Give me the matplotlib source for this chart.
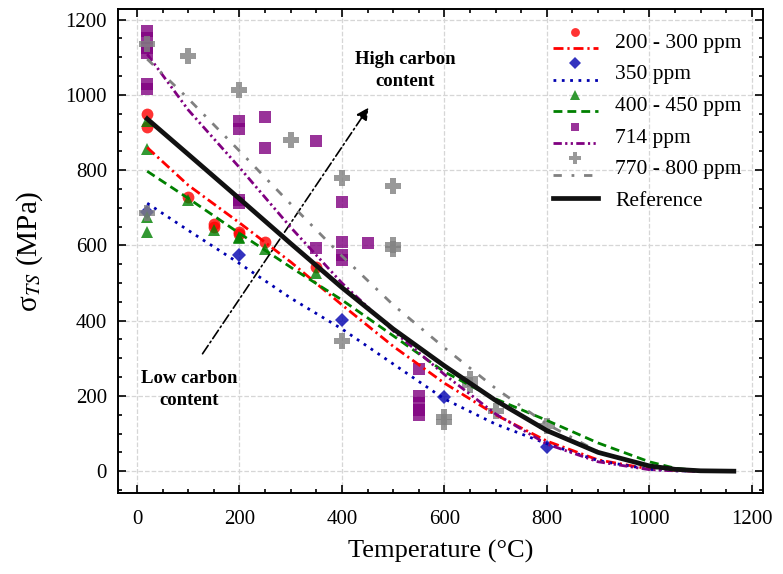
import matplotlib
matplotlib.use("Agg")
import matplotlib.pyplot as plt
import numpy as np
from matplotlib.lines import Line2D
from matplotlib.legend_handler import HandlerBase

plt.rcParams['font.family'] = ['Liberation Serif', 'DejaVu Serif']
plt.rcParams['mathtext.fontset'] = 'stix'

# fitted curves
T_fit = [20, 100, 200, 300, 400, 500, 600, 700, 800, 900, 1000, 1050, 1100, 1165]
fit_200_300 = [860, 760, 660, 556, 442, 332, 234, 150, 80, 30, 6, 2, 0, 0]
fit_350 = [712, 640, 552, 460, 378, 285, 192, 125, 73, 28, 5, 1, 0, 0]
fit_400_450 = [797, 725, 632, 542, 455, 360, 264, 192, 135, 75, 25, 8, 1, 0]
fit_714 = [1108, 960, 807, 648, 500, 373, 257, 152, 72, 25, 4, 1, 0, 0]
fit_770_800 = [1095, 990, 851, 710, 572, 442, 328, 220, 125, 52, 10, 3, 0, 0]
fit_ref = [936, 842, 724, 605, 488, 378, 280, 188, 108, 50, 14, 5, 1, 0]

# measured points
T_200_300 = [20, 20, 100, 150, 150, 200, 200, 250, 350]
S_200_300 = [948, 915, 729, 658, 650, 636, 630, 610, 543]

T_350 = [20, 200, 400, 600, 800]
S_350 = [689, 574, 402, 198, 63]

T_400_450 = [20, 20, 20, 20, 100, 150, 200, 200, 250, 350]
S_400_450 = [930, 855, 676, 636, 720, 641, 623, 619, 590, 526]

T_714 = [20, 20, 20, 20, 20, 20, 200, 200, 200, 200, 250, 250, 350, 350,
         400, 400, 400, 400, 450, 550, 550, 550, 550, 550]
S_714 = [1170, 1150, 1125, 1110, 1030, 1015, 930, 910, 720, 712, 940, 860, 877, 592,
         714, 610, 575, 560, 605, 271, 200, 180, 162, 148]

T_770_800 = [20, 20, 100, 200, 300, 400, 400, 500, 500, 500, 600, 600, 650, 650, 700, 800]
S_770_800 = [1134, 685, 1102, 1012, 881, 780, 346, 757, 600, 590, 145, 130, 245, 228, 159, 120]

series = [
    ("200 - 300 ppm", T_200_300, S_200_300, fit_200_300, "red", "o", (0, (3.6, 1.4, 0.8, 1.4))),
    ("350 ppm", T_350, S_350, fit_350, "#0000b0", "D", (0, (1, 2))),
    ("400 - 450 ppm", T_400_450, S_400_450, fit_400_450, "green", "^", (0, (3.2, 1.8))),
    ("714 ppm", T_714, S_714, fit_714, "purple", "s", (0, (3, 1.2, 0.8, 1.2, 0.8, 1.2))),
    ("770 - 800 ppm", T_770_800, S_770_800, fit_770_800, "gray", "P", (0, (3, 3.5, 1, 3.5))),
]
msizes = {"o": 8.5, "D": 7.5, "^": 9, "s": 8, "P": 11.5}


class MarkerOverLine(HandlerBase):
    def create_artists(self, legend, orig_handle, xdescent, ydescent,
                       width, height, fontsize, trans):
        ln, mk = orig_handle
        x0 = -xdescent
        y0 = -ydescent
        line = Line2D([x0, x0 + width], [y0 + 0.1 * height] * 2)
        line.update_from(ln)
        line.set_marker("None")
        line.set_transform(trans)
        dot = Line2D([x0 + width / 2], [y0 + 0.95 * height])
        dot.update_from(mk)
        dot.set_linestyle("None")
        dot.set_markersize(mk.get_markersize() * 0.75)
        dot.set_transform(trans)
        return [line, dot]


fig, ax = plt.subplots(figsize=(7.83, 5.74), dpi=100)
fig.subplots_adjust(left=0.1507, right=0.9745, top=0.9843, bottom=0.1411)

handles = []
labels = []
for name, tx, sy, fy, col, mk, ls in series:
    m, = ax.plot(tx, sy, linestyle="None", marker=mk, color=col, alpha=0.8,
                 markersize=msizes[mk], markeredgewidth=0, zorder=3)
    handles.append([None, m])
    labels.append(name)

for i, (name, tx, sy, fy, col, mk, ls) in enumerate(series):
    l, = ax.plot(T_fit, fy, color=col, linestyle=ls, linewidth=2, zorder=4)
    handles[i][0] = l

ref, = ax.plot(T_fit, fit_ref, color="#111111", linewidth=3.4, zorder=5)

# arrow between the two notes
ax.annotate("", xy=(452, 966), xytext=(128, 312),
            arrowprops=dict(arrowstyle="-|>", color="black", lw=1.2,
                            linestyle=(0, (6, 2, 1, 2)), mutation_scale=18,
                            shrinkA=0, shrinkB=0))
ax.text(523, 1064, "High carbon\ncontent", ha="center", va="center",
        fontsize=13.5, fontweight="bold", linespacing=1.4)
ax.text(102, 216, "Low carbon\ncontent", ha="center", va="center",
        fontsize=13.5, fontweight="bold", linespacing=1.4)

hmap = {tuple(h): MarkerOverLine() for h in handles}
leg_handles = [tuple(h) for h in handles] + [ref]
ax.legend(leg_handles, labels + ["Reference"], handler_map=hmap,
          loc="upper right", frameon=False, fontsize=15.5,
          handlelength=2.1, handleheight=1.0, handletextpad=0.8,
          labelspacing=0.45, borderaxespad=0.6)

ax.set_xlim(-37, 1222)
ax.set_ylim(-58, 1228)
ax.set_xticks(np.arange(0, 1201, 200))
ax.set_yticks(np.arange(0, 1201, 200))
ax.set_xticks(np.arange(0, 1201, 50), minor=True)
ax.set_yticks(np.arange(-50, 1226, 50), minor=True)
ax.tick_params(which="both", direction="in", top=True, right=True, width=1.2)
ax.tick_params(which="major", length=5.5)
ax.tick_params(which="minor", length=3)
ax.tick_params(axis="x", labelsize=15, pad=12)
ax.tick_params(axis="y", labelsize=15, pad=8)
for s in ax.spines.values():
    s.set_linewidth(1.4)

ax.grid(True, which="major", linestyle="--", color="#d6d6d6", linewidth=0.9)
ax.set_axisbelow(True)

ax.set_xlabel("Temperature (°C)", fontsize=19, labelpad=8)
ax.set_ylabel("σ$_{TS}$ (MPa)", fontsize=21, labelpad=15)

fig.savefig("out.png", dpi=100)
